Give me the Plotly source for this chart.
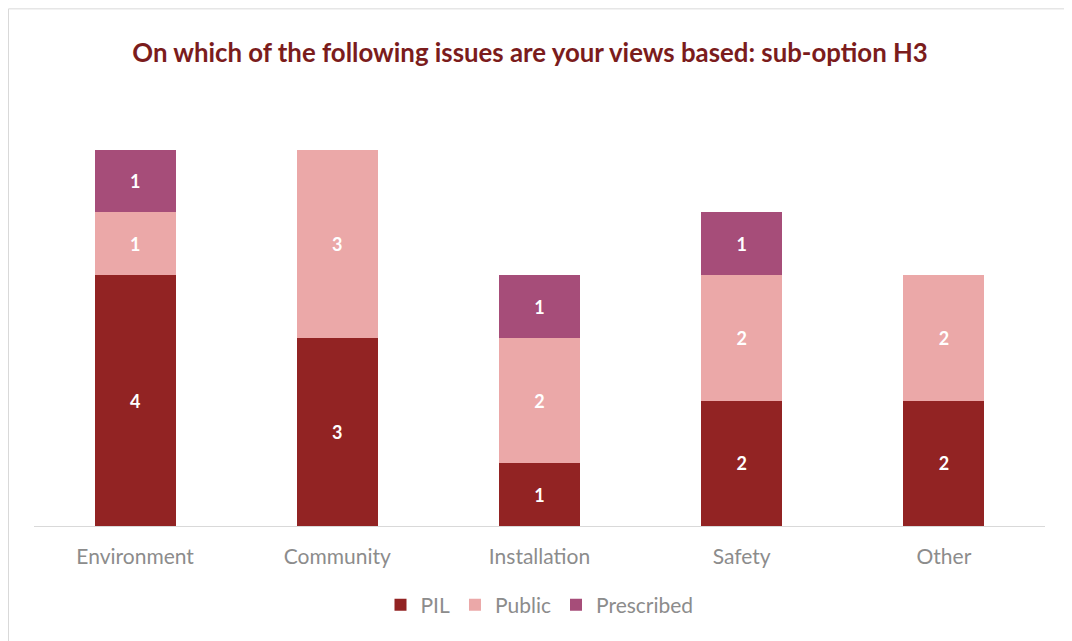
import plotly.graph_objects as go

categories = ['Environment', 'Community', 'Installation', 'Safety', 'Other']
pil = [4, 3, 1, 2, 2]
public = [1, 3, 2, 2, 2]
prescribed = [1, 0, 1, 1, 0]

colors = {
    'PIL': '#922323',
    'Public': '#EBA8A8',
    'Prescribed': '#A64D79'
}

fig = go.Figure()

for name, values in [('PIL', pil), ('Public', public), ('Prescribed', prescribed)]:
    fig.add_trace(go.Bar(
        x=categories,
        y=values,
        name=name,
        marker=dict(color=colors[name], line=dict(width=0)),
        text=[str(v) if v else '' for v in values],
        textposition='inside',
        insidetextanchor='middle',
        textfont=dict(color='white', size=18, family='Lato', weight='bold'),
        width=0.4
    ))

# page has an 8px body margin, so margins are shifted to compensate
fig.update_layout(
    barmode='stack',
    width=1072,
    height=641,
    margin=dict(l=26, r=35, t=79, b=123),
    paper_bgcolor='white',
    plot_bgcolor='white',
    font=dict(family='Lato', color='#8C8C8C'),
    title=dict(
        text='<b>On which of the following issues are your views based: sub-option H3</b>',
        x=0.487, xanchor='center', y=0.93, yanchor='middle',
        font=dict(size=25.8, color='#7B1C1C', family='Lato')
    ),
    xaxis=dict(
        showline=True, linecolor='#D9D9D9', linewidth=1,
        showgrid=False, ticks='outside', ticklen=12, tickcolor='rgba(0,0,0,0)',
        tickfont=dict(size=21, color='#8C8C8C')
    ),
    yaxis=dict(range=[0, 7], visible=False, showgrid=False),
    legend=dict(
        orientation='h', x=0.5, xanchor='center', y=-0.18, yanchor='middle',
        font=dict(size=21, color='#8C8C8C'), traceorder='normal'
    ),
    showlegend=True,
    bargap=0.6
)

# chart frame
fig.add_shape(type='rect', xref='paper', yref='paper',
              x0=-0.0252, x1=1.0307, y0=-0.278, y1=1.178,
              line=dict(color='#D9D9D9', width=1), layer='below')

fig.write_html('out.html')
